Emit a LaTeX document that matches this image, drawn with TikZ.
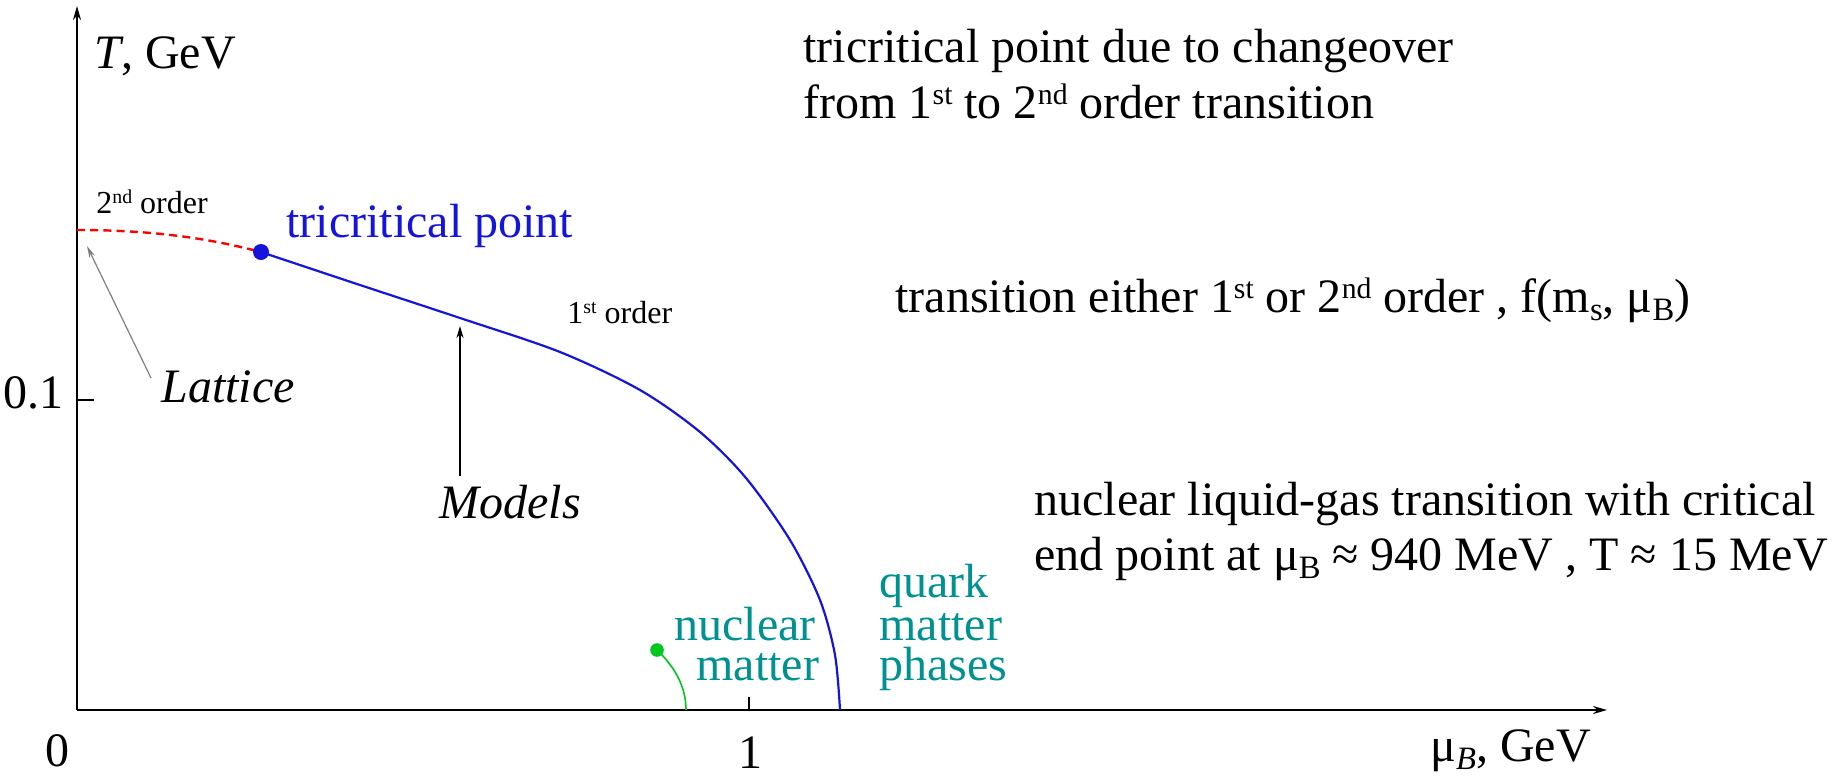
\documentclass[tikz,border=0pt]{standalone}
\usepackage{fontspec}
\usepackage{graphicx}
\setmainfont{Liberation Serif}
\usetikzlibrary{arrows.meta}
\definecolor{tealtxt}{RGB}{0,145,145}
\definecolor{curveblue}{RGB}{20,20,220}
\definecolor{dotgreen}{RGB}{0,200,30}
\newcommand\supx[1]{\raisebox{0.62ex}{\scalebox{0.62}{#1}}}
\newcommand\subx[1]{\raisebox{-0.4ex}{\scalebox{0.68}{#1}}}
\begin{document}
\begin{tikzpicture}[x=0.5pt,y=-0.5pt,
  big/.style={font=\fontsize{24}{28}\selectfont, inner sep=0pt, anchor=base west},
  small/.style={font=\fontsize{16}{19}\selectfont, inner sep=0pt, anchor=base west},
  axis/.style={line width=1.1pt, -{Stealth[length=7pt,width=4pt]}},
  pointer/.style={line width=0.9pt, -{Stealth[length=6pt,width=3.5pt]}},
  tickline/.style={line width=0.9pt}]
\fill[white] (0,0) rectangle (1841,782);
\useasboundingbox (0,0) rectangle (1841,782);

% axes
\coordinate (O) at (77,710);
\coordinate (ytop) at (77,6);
\coordinate (xend) at (1607,710);
\draw[axis] (O) -- (ytop);
\draw[axis] (O) -- (xend);

% ticks
\coordinate (ty0) at (77,400);
\coordinate (ty1) at (94,400);
\draw[tickline] (ty0) -- (ty1);
\coordinate (tx0) at (749,710);
\coordinate (tx1) at (749,697);
\draw[tickline] (tx0) -- (tx1);

% axis labels
\node[big] (Tlab) at (94,68) {\textit{T}, GeV};
\node[big, anchor=base east] (l01) at (64,408) {0.1};
\node[big, anchor=base] (l0) at (57,766) {0};
\node[big, anchor=base] (l1) at (750,768) {1};
\node[big] (mulab) at (1430,761) {μ\subx{\textit{B}}, GeV};

% transition lines
\coordinate (lat) at (77,230);
\coordinate (tcp) at (261,252);
\coordinate (qend) at (840,710);
\draw[red, line width=1.2pt, dash pattern=on 4pt off 2.6pt]
  (lat) .. controls (160,230) and (215,240) .. (tcp);
\draw[curveblue, line width=1.1pt] plot[smooth, tension=0.5] coordinates
  {(261,252) (360,285) (460,318) (560,352) (640,390) (700,432) (746,478) (790,540) (820,600) (835,655) (840,710)};
\fill[curveblue] (tcp) circle (4pt);

% nuclear liquid-gas line
\coordinate (nmdot) at (657,650);
\coordinate (nmend) at (686,710);
\draw[dotgreen, line width=0.8pt] (nmdot) .. controls (676,668) and (686,688) .. (nmend);
\fill[dotgreen] (nmdot) circle (3.4pt);

% pointer arrows
\coordinate (latfrom) at (151,378);
\coordinate (latto) at (87,246);
\draw[gray, line width=0.6pt, -{Stealth[length=6pt,width=3pt]}] (latfrom) -- (latto);
\coordinate (modfrom) at (460,476);
\coordinate (modto) at (460,326);
\draw[pointer] (modfrom) -- (modto);

% labels in the plot
\node[small] (second) at (96,213) {2\supx{nd} order};
\node[small] (first) at (567,323) {1\supx{st} order};
\node[big, text=curveblue] (tcplab) at (286,237) {tricritical point};
\node[big] (latlab) at (161,402) {\textit{Lattice}};
\node[big] (modlab) at (439,518) {\textit{Models}};
\node[big, text=tealtxt] (nuc1) at (674,640) {nuclear};
\node[big, text=tealtxt] (nuc2) at (696,680) {matter};
\node[big, text=tealtxt] (qm1) at (879,597) {quark};
\node[big, text=tealtxt] (qm2) at (879,640) {matter};
\node[big, text=tealtxt] (qm3) at (879,680) {phases};

% annotations on the right
\node[big] (ann1) at (803,62) {tricritical point due to changeover};
\node[big] (ann2) at (803,118) {from 1\supx{st} to 2\supx{nd} order transition};
\node[big] (ann3) at (895,312) {transition either 1\supx{st} or 2\supx{nd} order , f(m\subx{s}, μ\subx{B})};
\node[big] (ann4) at (1034,515) {nuclear liquid-gas transition with critical};
\node[big] (ann5) at (1034,570) {end point at μ\subx{B} ≈ 940 MeV , T ≈ 15 MeV};
\end{tikzpicture}
\end{document}
